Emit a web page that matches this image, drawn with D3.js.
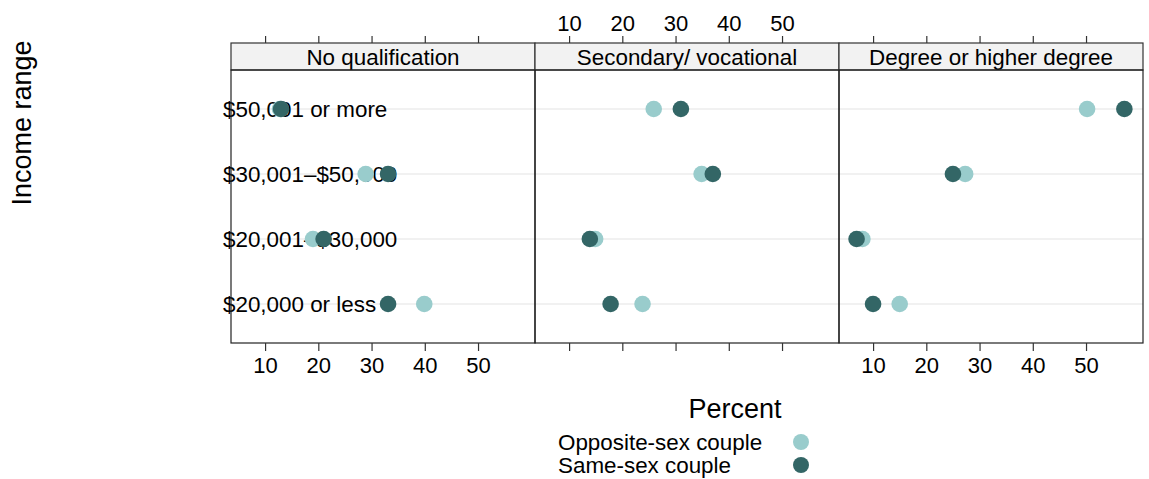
<!DOCTYPE html>
<html>
<head>
<meta charset="utf-8">
<script src="https://cdn.jsdelivr.net/npm/d3@7"></script>
<style>
  body { margin: 0; background: #fff; }
  text { font-family: "Liberation Sans", Arial, sans-serif; fill: #000; }
</style>
</head>
<body>
<div id="chart"></div>
<script>
// data (percent)
const incomes = ["$20,000 or less", "$20,001\u2013$30,000", "$30,001\u2013$50,000", "$50,001 or more"];
const qualifications = ["No qualification", "Secondary/ vocational", "Degree or higher degree"];
const oppositeSex = [
  [39.9, 19.0, 28.9, 12.8],
  [23.8, 14.9, 34.9, 25.9],
  [15.0, 8.0, 27.3, 50.2]
];
const sameSex = [
  [33.1, 21.0, 33.1, 13.0],
  [17.8, 13.9, 37.0, 31.0],
  [10.0, 6.9, 25.0, 57.2]
];
const seriesNames = ["Opposite-sex couple", "Same-sex couple"];
const xTicks = [10, 20, 30, 40, 50];

const WIDTH = 1149, HEIGHT = 479;
const PANELW = 304;
const LEFT = 231, STRIPTOP = 43, STRIPBOT = 70, BOTTOM = 343;
const COLORS = ["#99cccc", "#336666"];

const svg = d3.select("#chart").append("svg")
  .attr("width", WIDTH)
  .attr("height", HEIGHT);

const x = d3.scaleLinear().domain([3.6, 60.7]).range([0, PANELW]);
const y = d3.scaleLinear().domain([0.4, 4.6]).range([BOTTOM, STRIPBOT]);

// gridlines across all panels
svg.append("g").selectAll("line")
  .data(incomes)
  .join("line")
  .attr("x1", LEFT).attr("x2", LEFT + PANELW * 3)
  .attr("y1", (d, i) => y(i + 1)).attr("y2", (d, i) => y(i + 1))
  .attr("stroke", "#e3e3e3").attr("stroke-width", 1);

// row labels, lattice puts them inside the first panel
svg.append("g").selectAll("text")
  .data(incomes)
  .join("text")
  .attr("x", 223)
  .attr("y", (d, i) => y(i + 1))
  .attr("dy", "0.35em")
  .attr("font-size", 22.4)
  .text(d => d);

qualifications.forEach((q, p) => {
  const g = svg.append("g").attr("transform", `translate(${LEFT + p * PANELW},0)`);

  // strip
  g.append("rect")
    .attr("x", 0).attr("y", STRIPTOP)
    .attr("width", PANELW).attr("height", STRIPBOT - STRIPTOP)
    .attr("fill", "#f2f2f2").attr("stroke", "#333").attr("stroke-width", 1.2);
  g.append("text")
    .attr("x", PANELW / 2).attr("y", (STRIPTOP + STRIPBOT) / 2)
    .attr("dy", "0.36em")
    .attr("text-anchor", "middle")
    .attr("font-size", 22.4)
    .text(q);

  // panel frame
  g.append("rect")
    .attr("x", 0).attr("y", STRIPBOT)
    .attr("width", PANELW).attr("height", BOTTOM - STRIPBOT)
    .attr("fill", "none").attr("stroke", "#222").attr("stroke-width", 1.2);

  // axes: labels alternate top/bottom like lattice
  const top = d3.axisTop(x).tickValues(xTicks).tickSize(7).tickPadding(5)
    .tickFormat(p === 1 ? d3.format("d") : () => "");
  const bot = d3.axisBottom(x).tickValues(xTicks).tickSize(8).tickPadding(6)
    .tickFormat(p === 1 ? () => "" : d3.format("d"));
  const ta = g.append("g").attr("transform", `translate(0,${STRIPTOP})`).call(top);
  const ba = g.append("g").attr("transform", `translate(0,${BOTTOM})`).call(bot);
  [ta, ba].forEach(a => {
    a.select(".domain").remove();
    a.selectAll("line").attr("stroke", "#333").attr("stroke-width", 1.2);
    a.selectAll("text").attr("font-size", 22).attr("font-family", "Liberation Sans, Arial, sans-serif").attr("fill", "#000");
  });

  // dots: opposite-sex first, same-sex on top
  [oppositeSex, sameSex].forEach((s, k) => {
    g.append("g").selectAll("circle")
      .data(s[p])
      .join("circle")
      .attr("cx", d => x(d))
      .attr("cy", (d, i) => y(i + 1))
      .attr("r", 8.3)
      .attr("fill", COLORS[k]);
  });
});

// axis titles
svg.append("text")
  .attr("x", 735).attr("y", 409)
  .attr("dy", "0.35em")
  .attr("text-anchor", "middle")
  .attr("font-size", 27)
  .text("Percent");

svg.append("text")
  .attr("transform", "translate(22,123) rotate(-90)")
  .attr("dy", "0.35em")
  .attr("text-anchor", "middle")
  .attr("font-size", 27)
  .text("Income range");

// legend
const legend = svg.append("g").selectAll("g")
  .data(seriesNames)
  .join("g")
  .attr("transform", (d, i) => `translate(0,${442 + i * 23})`);
legend.append("text")
  .attr("x", 558).attr("dy", "0.35em")
  .attr("font-size", 22.4)
  .text(d => d);
legend.append("circle")
  .attr("cx", 801).attr("r", 8)
  .attr("fill", (d, i) => COLORS[i]);
</script>
</body>
</html>
